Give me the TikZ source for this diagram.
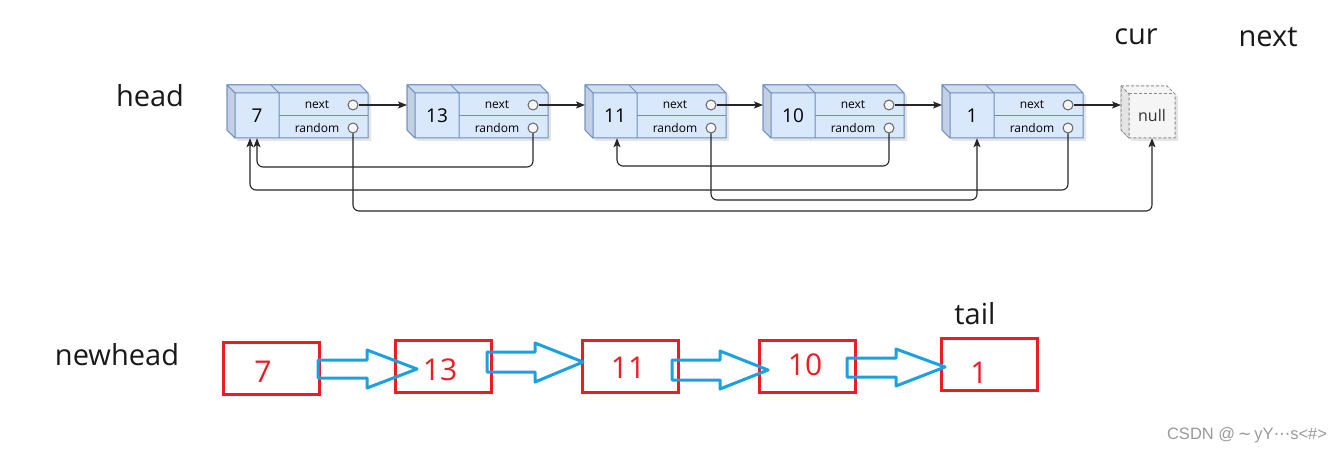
\documentclass[tikz,border=0pt]{standalone}
\usepackage{fontspec}
\setmainfont{Open Sans}
\newfontfamily\wmfont{Liberation Sans}
\newfontfamily\dvfont{DejaVu Sans}
\usetikzlibrary{arrows.meta}
\definecolor{cubefill}{HTML}{DAE8FC}
\definecolor{cubestroke}{HTML}{6C8EBF}
\definecolor{cubeleft}{HTML}{C2CFE4}
\definecolor{cubetop}{HTML}{CFDDF3}
\definecolor{portfill}{HTML}{F5F5F5}
\definecolor{portstroke}{HTML}{666666}
\definecolor{nullfill}{HTML}{F5F5F5}
\definecolor{nullside}{HTML}{E4E4E4}
\definecolor{nullstroke}{HTML}{8C8C8C}
\definecolor{redbox}{HTML}{ED1C24}
\definecolor{bluearrow}{HTML}{1BA1E2}
\definecolor{wmgray}{HTML}{9A9A9A}
\begin{document}
\begin{tikzpicture}[x=1pt,y=-1pt,
  cube/.style={draw=cubestroke,fill=cubefill,line width=1pt,line join=round},
  cubeL/.style={draw=cubestroke,fill=cubeleft,line width=1pt,line join=round},
  cubeT/.style={draw=cubestroke,fill=cubetop,line width=1pt,line join=round},
  cubeline/.style={draw=cubestroke,line width=1pt},
  shadowc/.style={fill=black,opacity=0.10},
  valtxt/.style={inner sep=0,minimum width=44pt,minimum height=45pt,font=\fontsize{19}{21}\selectfont},
  smalltxt/.style={inner sep=0,font=\fontsize{12}{14}\selectfont},
  port/.style={circle,draw=portstroke,fill=portfill,line width=1pt,minimum size=10pt,inner sep=0},
  ghost/.style={inner sep=0,outer sep=0},
  nullst/.style={draw=nullstroke,dash pattern=on 3pt off 2pt,line width=1pt,line join=round},
  conn/.style={draw=black!85,line width=1.1pt,rounded corners=6pt,-{Stealth[length=9pt,width=7pt,inset=2pt]}},
  lbl/.style={inner sep=0,font=\fontsize{29}{34}\selectfont,text=black!90},
  rbox/.style={draw=redbox,line width=3pt,minimum width=96pt,minimum height=52pt,inner sep=0},
  rtxt/.style={inner sep=0,text=redbox,font=\fontsize{30}{34}\selectfont},
  barrow/.style={draw=bluearrow,line width=3pt,line join=round},
  wm/.style={inner sep=0,text=wmgray,font=\wmfont\fontsize{16.5}{19}\selectfont}
]
\useasboundingbox[fill=white] (0,0) rectangle (1340,454);

% ---------- top row: cube nodes ----------
\foreach \i/\L/\v in {1/227/7, 2/407/13, 3/585/11, 4/763/10, 5/942/1}{
  \fill[shadowc] (\L+3,88) -- (\L+136,88) -- (\L+144,96) -- (\L+144,141) -- (\L+11,141) -- (\L+3,133) -- cycle;
  \path[cube] (\L,85) -- (\L+133,85) -- (\L+141,93) -- (\L+141,138) -- (\L+8,138) -- (\L,130) -- cycle;
  \path[cubeT] (\L,85) -- (\L+133,85) -- (\L+141,93) -- (\L+8,93) -- cycle;
  \path[cubeL] (\L,85) -- (\L+8,93) -- (\L+8,138) -- (\L,130) -- cycle;
  \draw[cubeline] (\L+44,85) -- (\L+52,93) -- (\L+52,138);
  \draw[cubeline] (\L+52,116) -- (\L+141,116);
  \node[ghost,minimum width=141pt,minimum height=53pt] (c\i) at (\L+70.5,111.5) {};
  \node[valtxt] (v\i) at (\L+30,115.5) {\v};
  \node[smalltxt] (nx\i) at (\L+90,105) {next};
  \node[smalltxt] (rd\i) at (\L+90,128) {random};
  \node[port] (p\i) at (\L+126,105) {};
  \node[port] (q\i) at (\L+126,128) {};
}

% ---------- null node ----------
\fill[shadowc] (1124,89) -- (1170,89) -- (1178,97) -- (1178,141) -- (1132,141) -- (1124,133) -- cycle;
\path[nullst,fill=nullfill] (1121,86) -- (1167,86) -- (1175,94) -- (1175,138) -- (1129,138) -- (1121,130) -- cycle;
\path[nullst,fill=nullside] (1121,86) -- (1129,94) -- (1129,138) -- (1121,130) -- cycle;
\draw[nullst] (1129,94) -- (1175,94);
\node[ghost,minimum width=54pt,minimum height=52pt] (nulc) at (1148,112) {};
\node[inner sep=0,minimum width=46pt,minimum height=44pt,text=black!80,font=\fontsize{16}{18}\selectfont] (nul) at (1152,116) {null};

% ---------- next pointers ----------
\foreach \a/\b in {1/2,2/3,3/4,4/5}{
  \draw[conn] (p\a) -- (p\a -| c\b.west);
}
\draw[conn] (p5) -- (p5 -| nulc.west);

% ---------- random pointers ----------
\draw[conn] (q1) -- (q1 |- 0,211) -| (nul.south);
\draw[conn] (q2) -- (q2 |- 0,167) -| (v1.south);
\draw[conn] (q5) -- (q5 |- 0,190) -| ([xshift=-7pt]v1.south);
\draw[conn] (q3) -- (q3 |- 0,200) -| ([xshift=5pt]v5.south);
\draw[conn] (q4) -- (q4 |- 0,166) -| ([xshift=2pt]v3.south);

% ---------- labels ----------
\node[lbl] (head) at (150,96) {head};
\node[lbl] (newhead) at (117,355) {newhead};
\node[lbl] (cur) at (1136,37) {cur};
\node[lbl] (nextlbl) at (1268,37) {next};
\node[lbl] (tail) at (975,314) {tail};

% ---------- bottom row ----------
\node[rbox] (b1) at (271.5,368.5) {};
\node[rbox] (b2) at (443,366) {};
\node[rbox] (b3) at (630.5,366.5) {};
\node[rbox] (b4) at (807.5,366.5) {};
\node[rbox] (b5) at (989.5,364.5) {};
\node[rtxt] (t1) at (263,372) {7};
\node[rtxt] (t2) at (440,370) {13};
\node[rtxt] (t3) at (628,368) {11};
\node[rtxt] (t4) at (805,365) {10};
\node[rtxt] (t5) at (979,373) {1};

\draw[barrow] (318,360) -- (367,360) -- (367,350) -- (417,369) -- (367,388) -- (367,378) -- (318,378) -- cycle;
\draw[barrow] (487,352) -- (535,352) -- (535,343) -- (583,362) -- (535,382) -- (535,372) -- (487,372) -- cycle;
\draw[barrow] (672,360) -- (720,360) -- (720,351) -- (768,370) -- (720,389) -- (720,380) -- (672,380) -- cycle;
\draw[barrow] (847,358) -- (896,358) -- (896,349) -- (945,367) -- (896,386) -- (896,377) -- (847,377) -- cycle;

% ---------- watermark ----------
\node[wm] (wmark) at (1247,435) {CSDN @\,{\dvfont ∼}\,yY{\dvfont ⋯}s<\#>};
\end{tikzpicture}
\end{document}
